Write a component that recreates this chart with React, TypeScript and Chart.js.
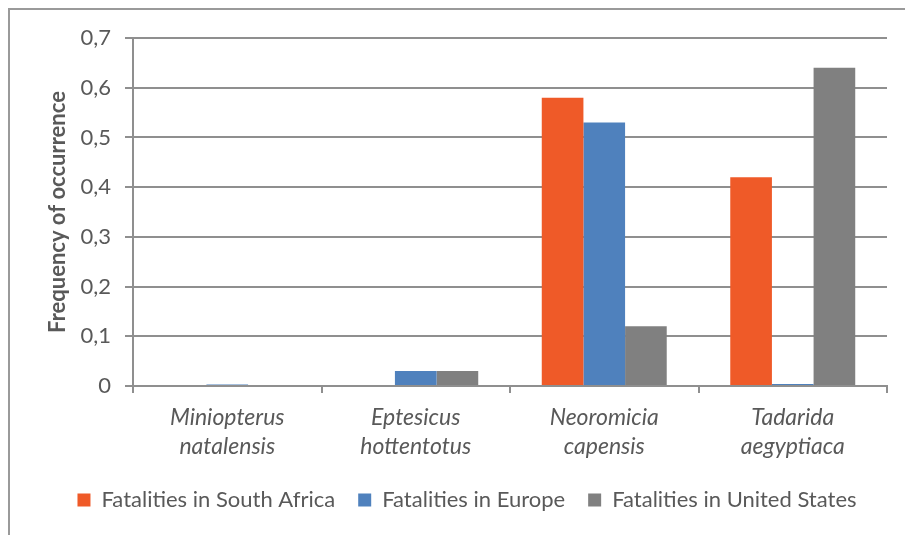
import React, { useEffect, useRef } from "react";
import { Chart, registerables } from "chart.js";

Chart.register(...registerables);

const categories: string[][] = [
  ["Miniopterus", "natalensis"],
  ["Eptesicus", "hottentotus"],
  ["Neoromicia", "capensis"],
  ["Tadarida", "aegyptiaca"],
];
const southAfrica = [0, 0, 0.58, 0.42];
const europe = [0.003, 0.03, 0.53, 0.004];
const unitedStates = [0, 0.03, 0.12, 0.64];
const seriesNames = [
  "Fatalities in South Africa",
  "Fatalities in Europe",
  "Fatalities in United States",
];
const yAxisTitle = "Frequency of occurrence";

const FONT = "Lato, 'Open Sans', sans-serif";
const TEXT = "#595959";
const LINE = "#8f8f8f";

// Centre the legend row under the plot area rather than the full canvas.
const legendShift = {
  id: "legendShift",
  afterLayout(chart: any) {
    const lg = chart.legend;
    if (!lg) return;
    const area = chart.chartArea;
    const target = (area.left + area.right) / 2 - 43;
    const current = (lg.left + lg.right) / 2;
    const dx = target - current;
    lg.left += dx;
    lg.right += dx;
  },
};

export default function App() {
  const canvasRef = useRef<HTMLCanvasElement | null>(null);

  useEffect(() => {
    const canvas = canvasRef.current;
    if (!canvas) return;
    const chart = new Chart(canvas, {
      type: "bar",
      data: {
        labels: categories,
        datasets: [
          { label: seriesNames[0], data: southAfrica, backgroundColor: "#EF5A28" },
          { label: seriesNames[1], data: europe, backgroundColor: "#4F81BD" },
          { label: seriesNames[2], data: unitedStates, backgroundColor: "#808080" },
        ],
      },
      plugins: [legendShift],
      options: {
        animation: false,
        responsive: false,
        maintainAspectRatio: false,
        datasets: { bar: { categoryPercentage: 0.663, barPercentage: 1 } },
        layout: { padding: { top: 38, right: 18, left: 0, bottom: 14 } },
        plugins: {
          tooltip: { enabled: false },
          legend: {
            position: "bottom",
            labels: {
              boxWidth: 13,
              boxHeight: 13,
              padding: 23,
              color: TEXT,
              font: { family: FONT, size: 22 },
            },
          },
        },
        scales: {
          x: {
            grid: {
              offset: true,
              drawOnChartArea: false,
              drawTicks: true,
              tickLength: 7,
              color: LINE,
              lineWidth: 2,
            },
            border: { display: true, color: LINE, width: 2 },
            ticks: {
              color: TEXT,
              padding: 11,
              maxRotation: 0,
              autoSkip: false,
              font: { family: FONT, size: 23, style: "italic", lineHeight: 1.22 },
            },
            afterFit: (scale: any) => {
              scale.height = 80;
            },
          },
          y: {
            min: 0,
            max: 0.7,
            ticks: {
              stepSize: 0.1,
              color: TEXT,
              padding: 14,
              font: { family: FONT, size: 22 },
              callback: (v: any) =>
                Number(v) === 0 ? "0" : Number(v).toFixed(1).replace(".", ","),
            },
            grid: {
              color: LINE,
              lineWidth: 2,
              drawTicks: true,
              tickLength: 8,
            },
            border: { display: true, color: LINE, width: 2 },
            title: {
              display: true,
              text: yAxisTitle,
              color: TEXT,
              font: { family: FONT, size: 22, weight: "bold" },
              padding: { top: 45, bottom: 0 },
            },
            afterFit: (scale: any) => {
              scale.width = 133;
            },
          },
        },
      },
    });
    return () => chart.destroy();
  }, []);

  return (
    <div style={{ position: "fixed", left: 0, top: 0, width: 905, height: 535, background: "#fff", overflow: "hidden" }}>
      <div
        style={{
          position: "absolute",
          left: 8,
          top: 8,
          width: 1200,
          height: 1200,
          borderLeft: "2px solid #9a9a9a",
          borderTop: "2px solid #9a9a9a",
        }}
      />
      <canvas ref={canvasRef} width={905} height={535} style={{ position: "absolute", left: 0, top: 0 }} />
    </div>
  );
}
